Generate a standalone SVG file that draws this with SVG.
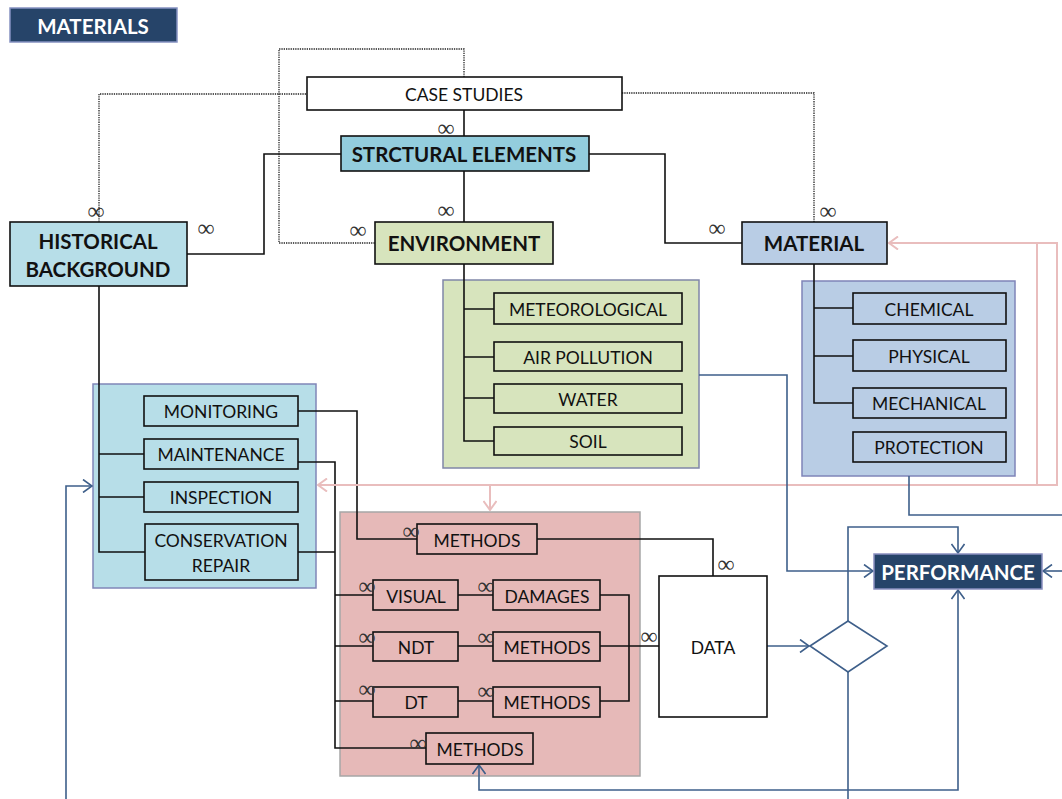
<svg xmlns="http://www.w3.org/2000/svg" width="1062" height="799" viewBox="0 0 1062 799">
<defs>
<marker id="ab" markerUnits="userSpaceOnUse" markerWidth="12" markerHeight="14" viewBox="0 0 12 14" refX="11" refY="7" orient="auto-start-reverse"><path d="M2,0.5 L11,7 L2,13.5" fill="none" stroke="#3e5f8a" stroke-width="1.6"/></marker>
<marker id="ap" markerUnits="userSpaceOnUse" markerWidth="12" markerHeight="14" viewBox="0 0 12 14" refX="11" refY="7" orient="auto-start-reverse"><path d="M2,0.5 L11,7 L2,13.5" fill="none" stroke="#e9bdbd" stroke-width="2"/></marker>
<style>
text{font-family:Lato,"Open Sans","Liberation Sans",sans-serif;fill:#111;text-anchor:middle;dominant-baseline:central}
.b{font-weight:bold}
.w{fill:#fff}
.n{stroke:#111;stroke-width:1.6}
.c{fill:none;stroke:#111;stroke-width:1.6}
.d{fill:none;stroke:#222;stroke-width:1.3;stroke-dasharray:1.3 1}
.bl{fill:none;stroke:#3e5f8a;stroke-width:1.6}
.pk{fill:none;stroke:#e9bdbd;stroke-width:2}
text.inf{font-family:"Liberation Serif","DejaVu Serif",serif;font-size:24px;font-weight:normal;fill:#333}
.t16{font-size:17.5px}
.t19{font-size:20.5px}
</style>
</defs>

<g id="title"><rect x="10" y="8" width="167" height="34" fill="#264469" stroke="#8591c1" stroke-width="1.5"/><text x="93" y="26" class="b w t19">MATERIALS</text></g>

<g id="groups">
<rect x="93" y="384" width="223" height="204" fill="#b7dee8" stroke="#8086b8" stroke-width="1.5"/>
<rect x="443" y="280" width="256" height="188" fill="#d7e4bd" stroke="#8086a8" stroke-width="1.5"/>
<rect x="802" y="281" width="213" height="195" fill="#b9cde5" stroke="#7f84b8" stroke-width="1.5"/>
<rect x="340" y="512" width="300" height="264" fill="#e6b9b8" stroke="#a6a6a6" stroke-width="1.5"/>
</g>

<g id="connectors">
<path class="d" d="M306,94 H99 V222"/>
<path class="d" d="M464,77 V49 H279 V243 H375"/>
<path class="d" d="M622,93 H814 V222"/>
<path class="c" d="M464,110 V136"/>
<path class="c" d="M464,171 V222"/>
<path class="c" d="M589,154 H665 V243 H742"/>
<path class="c" d="M341,154 H264 V254 H187"/>
<path class="c" d="M464,264 V441 H494 M464,309 H494 M464,357 H494 M464,398 H494"/>
<path class="c" d="M814,264 V403 H853 M814,308 H853 M814,356 H853"/>
<path class="c" d="M99,286 V552 H145 M99,454 H144 M99,497 H144"/>
<path class="c" d="M298,411 H357 V539 H417"/>
<path class="c" d="M298,462 H335 V748 H426 M298,552 H335 M335,595 H373 M335,646 H373 M335,701 H373"/>
<path class="c" d="M458,595 H493 M458,646 H493 M458,701 H493"/>
<path class="c" d="M600,595 H629 V701 H600 M600,646 H659"/>
<path class="c" d="M537,539 H713 V576"/>
<path class="pk" d="M1037,485 V243 H889" marker-end="url(#ap)"/>
<path class="pk" d="M1037,243 H1057 V485 H318" marker-end="url(#ap)"/>
<path class="pk" d="M490,485 V510" marker-end="url(#ap)"/>
<path class="bl" d="M767,646 H809" marker-end="url(#ab)"/>
<path class="bl" d="M848,621 V527 H958 V553" marker-end="url(#ab)"/>
<path class="bl" d="M848,672 V799"/>
<path class="bl" d="M479,765 V790 H958 V590" marker-start="url(#ab)" marker-end="url(#ab)"/>
<path class="bl" d="M699,375 H787 V571 H873" marker-end="url(#ab)"/>
<path class="bl" d="M909,476 V515 H1062"/>
<path class="bl" d="M1062,571 H1043" marker-end="url(#ab)"/>
<path class="bl" d="M66,799 V486 H92" marker-end="url(#ab)"/>
</g>

<g id="case-studies"><rect x="307" y="77" width="315" height="33" fill="#fff" class="n"/><text x="464" y="94" class="t16">CASE STUDIES</text></g>
<g id="structural-elements"><rect x="341" y="136" width="248" height="35" fill="#93cddd" class="n"/><text x="464" y="154" class="b t19">STRCTURAL ELEMENTS</text></g>
<g id="historical-background"><rect x="10" y="222" width="177" height="64" fill="#b7dee8" class="n"/><text x="98" y="241" class="b t19">HISTORICAL</text><text x="98" y="269" class="b t19">BACKGROUND</text></g>
<g id="environment"><rect x="375" y="222" width="178" height="42" fill="#d7e4bd" class="n"/><text x="464" y="243" class="b t19">ENVIRONMENT</text></g>
<g id="material"><rect x="742" y="222" width="145" height="42" fill="#b9cde5" class="n"/><text x="814" y="243" class="b t19">MATERIAL</text></g>

<g id="meteorological"><rect x="494" y="293" width="188" height="31" fill="#d7e4bd" class="n"/><text x="588" y="309" class="t16">METEOROLOGICAL</text></g>
<g id="air-pollution"><rect x="494" y="342" width="188" height="29" fill="#d7e4bd" class="n"/><text x="588" y="357" class="t16">AIR POLLUTION</text></g>
<g id="water"><rect x="494" y="384" width="188" height="29" fill="#d7e4bd" class="n"/><text x="588" y="399" class="t16">WATER</text></g>
<g id="soil"><rect x="494" y="427" width="188" height="28" fill="#d7e4bd" class="n"/><text x="588" y="441" class="t16">SOIL</text></g>

<g id="chemical"><rect x="853" y="293" width="153" height="31" fill="#b9cde5" class="n"/><text x="929" y="309" class="t16">CHEMICAL</text></g>
<g id="physical"><rect x="853" y="340" width="153" height="31" fill="#b9cde5" class="n"/><text x="929" y="356" class="t16">PHYSICAL</text></g>
<g id="mechanical"><rect x="853" y="388" width="153" height="30" fill="#b9cde5" class="n"/><text x="929" y="403" class="t16">MECHANICAL</text></g>
<g id="protection"><rect x="853" y="432" width="153" height="30" fill="#b9cde5" class="n"/><text x="929" y="447" class="t16">PROTECTION</text></g>

<g id="monitoring"><rect x="144" y="396" width="154" height="30" fill="#b7dee8" class="n"/><text x="221" y="411" class="t16">MONITORING</text></g>
<g id="maintenance"><rect x="144" y="439" width="154" height="30" fill="#b7dee8" class="n"/><text x="221" y="454" class="t16">MAINTENANCE</text></g>
<g id="inspection"><rect x="144" y="482" width="154" height="30" fill="#b7dee8" class="n"/><text x="221" y="497" class="t16">INSPECTION</text></g>
<g id="conservation-repair"><rect x="145" y="524" width="153" height="56" fill="#b7dee8" class="n"/><text x="221" y="540" class="t16">CONSERVATION</text><text x="221" y="565" class="t16">REPAIR</text></g>

<g id="methods-top"><rect x="417" y="524" width="120" height="30" fill="#e6b9b8" class="n"/><text x="477" y="540" class="t16">METHODS</text></g>
<g id="visual"><rect x="373" y="580" width="85" height="30" fill="#e6b9b8" class="n"/><text x="416" y="596" class="t16">VISUAL</text></g>
<g id="damages"><rect x="493" y="580" width="107" height="30" fill="#e6b9b8" class="n"/><text x="547" y="596" class="t16">DAMAGES</text></g>
<g id="ndt"><rect x="373" y="632" width="85" height="29" fill="#e6b9b8" class="n"/><text x="416" y="647" class="t16">NDT</text></g>
<g id="methods-ndt"><rect x="493" y="632" width="107" height="29" fill="#e6b9b8" class="n"/><text x="547" y="647" class="t16">METHODS</text></g>
<g id="dt"><rect x="373" y="687" width="85" height="30" fill="#e6b9b8" class="n"/><text x="416" y="702" class="t16">DT</text></g>
<g id="methods-dt"><rect x="493" y="687" width="107" height="30" fill="#e6b9b8" class="n"/><text x="547" y="702" class="t16">METHODS</text></g>
<g id="methods-bottom"><rect x="426" y="733" width="107" height="31" fill="#e6b9b8" class="n"/><text x="480" y="749" class="t16">METHODS</text></g>

<g id="data"><rect x="659" y="576" width="108" height="141" fill="#fff" class="n"/><text x="713" y="647" class="t16">DATA</text></g>
<g id="decision"><polygon points="810,646 848,621 887,646 848,672" fill="#fff" stroke="#3e5f8a" stroke-width="1.6"/></g>
<g id="performance"><rect x="874" y="554" width="168" height="35" fill="#264469" stroke="#8a8fc0" stroke-width="1.5"/><text x="958" y="572" class="b w t19">PERFORMANCE</text></g>

<g id="multiplicity">
<text class="inf" x="446" y="128">∞</text>
<text class="inf" x="446" y="210">∞</text>
<text class="inf" x="358" y="230">∞</text>
<text class="inf" x="717" y="228">∞</text>
<text class="inf" x="96" y="211">∞</text>
<text class="inf" x="206" y="228">∞</text>
<text class="inf" x="828" y="211">∞</text>
<text class="inf" x="411" y="531">∞</text>
<text class="inf" x="367" y="586">∞</text>
<text class="inf" x="486" y="586">∞</text>
<text class="inf" x="367" y="637">∞</text>
<text class="inf" x="486" y="637">∞</text>
<text class="inf" x="367" y="689">∞</text>
<text class="inf" x="486" y="691">∞</text>
<text class="inf" x="418" y="743">∞</text>
<text class="inf" x="649" y="636">∞</text>
<text class="inf" x="726" y="564">∞</text>
</g>
</svg>
